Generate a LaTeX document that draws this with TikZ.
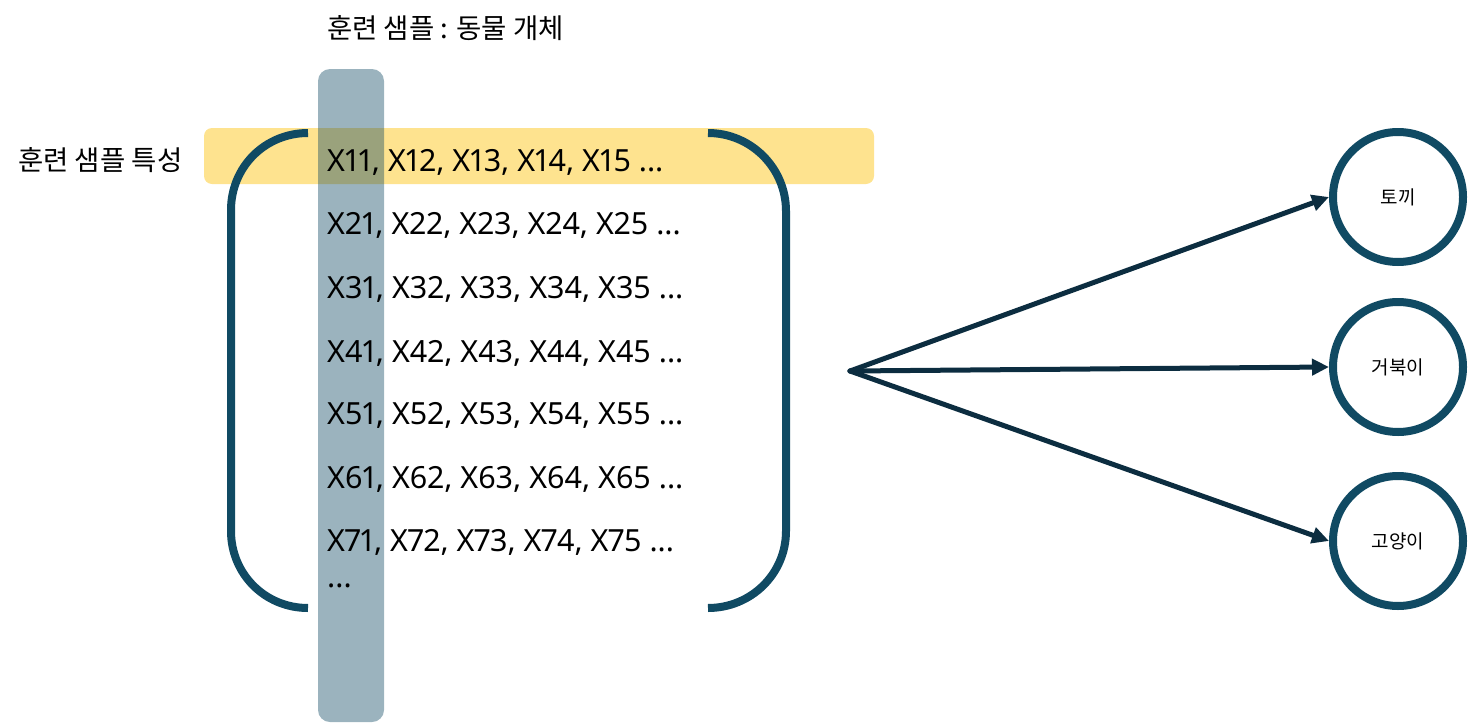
\documentclass[tikz,border=0pt]{standalone}
\usepackage{fontspec}
\setmainfont{Noto Sans}[Numbers=Proportional]
\newfontfamily\kr{Noto Sans CJK KR}
\usetikzlibrary{arrows.meta}
\definecolor{bracketc}{RGB}{16,74,99}
\definecolor{arrowc}{RGB}{12,45,64}
\definecolor{hlyellow}{RGB}{254,227,143}
\begin{document}
\begin{tikzpicture}[x=1pt,y=-1pt,
  rowtext/.style={anchor=base west, inner sep=0pt, font=\fontsize{30.5}{35}\selectfont},
  krlabel/.style={anchor=base west, inner sep=0pt, font=\kr\fontsize{27.5}{32}\selectfont},
  bracketline/.style={draw=bracketc, line width=8pt},
  outcircle/.style={circle, draw=bracketc, line width=8pt, minimum size=130pt, inner sep=0pt, fill=white, font=\kr\fontsize{19}{22}\selectfont},
  arr/.style={draw=arrowc, line width=5pt, line cap=round, -{Triangle[length=17pt,width=16pt]}}]
\useasboundingbox (0,0) rectangle (1468,723);
% highlight bars
\fill[hlyellow, rounded corners=8pt] (204,128) rectangle (874,184);
\fill[bracketc, opacity=0.42, rounded corners=12pt] (318,69) rectangle (384,722);
% brackets
\draw[bracketline] (308,133) .. controls (265,133) and (231,167) .. (231,210) -- (231,531) .. controls (231,574) and (265,608) .. (308,608);
\draw[bracketline] (708,133) .. controls (751,133) and (786,168) .. (786,211) -- (786,531) .. controls (786,574) and (751,608) .. (708,608);
% labels
\node[krlabel] (title) at (327,38) {훈련 샘플 : 동물 개체};
\node[krlabel] (feat) at (18,170) {훈련 샘플 특성};
% rows
\node[rowtext] (r1) at (327,171) {X11, X12, X13, X14, X15 ...};
\node[rowtext] (r2) at (327,234) {X21, X22, X23, X24, X25 ...};
\node[rowtext] (r3) at (327,298) {X31, X32, X33, X34, X35 ...};
\node[rowtext] (r4) at (327,362) {X41, X42, X43, X44, X45 ...};
\node[rowtext] (r5) at (327,424) {X51, X52, X53, X54, X55 ...};
\node[rowtext] (r6) at (327,488) {X61, X62, X63, X64, X65 ...};
\node[rowtext] (r7) at (327,551) {X71, X72, X73, X74, X75 ...};
\node[rowtext] (r8) at (327,587) {...};
% outputs
\node[outcircle] (c1) at (1398,197) {토끼};
\node[outcircle] (c2) at (1398,367) {거북이};
\node[outcircle] (c3) at (1398,541) {고양이};
\coordinate (src) at (850,371);
\draw[arr] (src) -- (c1.west);
\draw[arr] (src) -- (c2.west);
\draw[arr] (src) -- (c3.west);
\end{tikzpicture}
\end{document}
